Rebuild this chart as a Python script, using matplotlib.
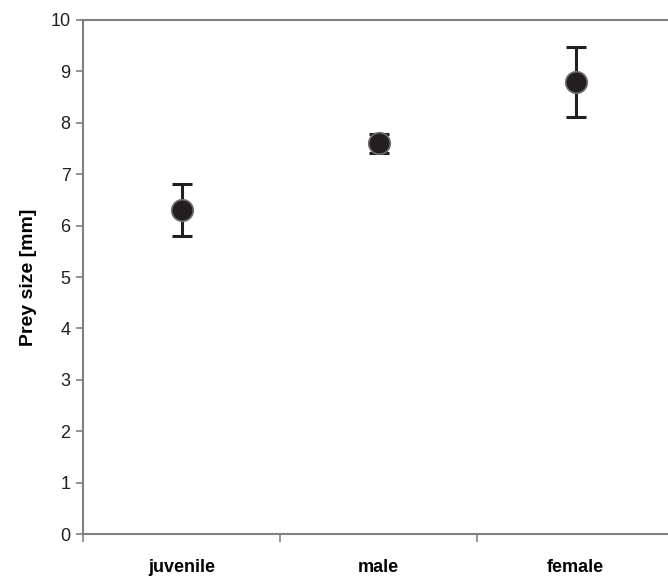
import matplotlib
matplotlib.use("Agg")
import matplotlib.pyplot as plt

plt.rcParams['font.family'] = ['Liberation Sans', 'DejaVu Sans']

groups = ['juvenile', 'male', 'female']
prey_size = [6.3, 7.6, 8.8]
prey_err = [0.5, 0.18, 0.68]

fig = plt.figure(figsize=(6.68, 5.78), dpi=100)
ax = fig.add_axes([0.1243, 0.0761, 0.885, 0.8893])

xpos = [i + 0.5 for i in range(len(groups))]
ax.errorbar(xpos, prey_size, yerr=prey_err, fmt='none', ecolor='#231f20',
            elinewidth=2.2, capsize=7, capthick=2.2, zorder=2)
ax.scatter(xpos, prey_size, s=240, color='#231f20', edgecolors='#6d6d6d',
           linewidths=1.2, zorder=3)

ax.set_xlim(0, 3)
ax.set_ylim(0, 10)
ax.set_yticks(range(0, 11))
ax.set_xticks([0, 1, 2, 3])
ax.set_xticklabels([])
ax.set_xticks(xpos, minor=True)
ax.set_xticklabels(groups, minor=True, fontsize=13, fontweight='bold')
ax.tick_params(axis='x', which='minor', length=0, pad=18)
ax.tick_params(axis='x', which='major', length=6, width=1.2, color='#808080', direction='out')
ax.tick_params(axis='y', length=5, width=1.2, color='#808080', labelsize=13, pad=4,
               labelcolor='#231f20')

for s in ax.spines.values():
    s.set_color('#808080')
    s.set_linewidth(1.5)

ax.set_ylabel('Prey size [mm]', fontsize=14, fontweight='bold', labelpad=10)

fig.savefig('out.png', dpi=100)
